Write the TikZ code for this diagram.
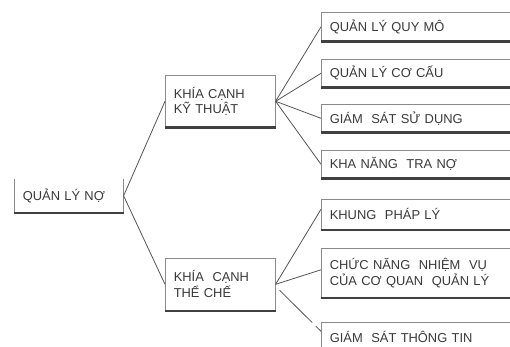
\documentclass[tikz,border=0pt]{standalone}
\usepackage{fontspec}
\setmainfont{Liberation Sans}
\definecolor{ink}{HTML}{3A3A3A}
\definecolor{rule}{HTML}{555555}
\definecolor{edge}{HTML}{8A8A8A}
\begin{document}
\begin{tikzpicture}[x=1pt,y=-1pt,
  box/.style={draw=edge, line width=0.6pt, fill=white, anchor=north west,
    align=left, inner xsep=8.5pt, inner ysep=0pt, text=ink,
    font=\fontsize{12.9}{15.8}\selectfont},
  base/.style={draw=black!75, line width=2.2pt},
  link/.style={draw=rule, line width=0.8pt}]
\useasboundingbox[fill=white] (0,0) rectangle (510,347);

% root
\node[box, draw=none, text width=92pt, minimum height=33pt] (qln) at (14,179) {QUẢN LÝ NỢ};
\draw[edge, line width=0.6pt] (qln.north west) -- (qln.south west) (qln.north east) -- (qln.south east);

% second level
\node[box, text width=93pt, minimum height=52pt] (kt) at (165,75) {KHÍA CẠNH\\KỸ THUẬT};
\node[box, text width=93pt, minimum height=52pt] (tc) at (165,258) {KHÍA\ \ CẠNH\\THỂ CHẾ};

% leaves
\node[box, text width=180pt, minimum height=29pt] (r1) at (321,12) {QUẢN LÝ QUY MÔ};
\node[box, text width=180pt, minimum height=28pt] (r2) at (321,59) {QUẢN LÝ CƠ CẤU};
\node[box, text width=180pt, minimum height=28pt] (r3) at (321,104) {GIÁM\ \ SÁT SỬ DỤNG};
\node[box, text width=180pt, minimum height=28pt] (r4) at (321,150) {KHA NĂNG\ \ TRA NỢ};
\node[box, text width=180pt, minimum height=30pt] (r5) at (321,199) {KHUNG\ \ PHÁP LÝ};
\node[box, text width=180pt, minimum height=49pt] (r6) at (321,248) {CHỨC NĂNG\ \ NHIỆM\ \ VỤ\\CỦA CƠ QUAN\ \ QUẢN LÝ};
\node[box, text width=180pt, minimum height=34pt, anchor=north west] (r7) at (321,322) {\raisebox{5pt}{GIÁM\ \ SÁT THÔNG TIN}};

% heavy lower edges
\foreach \n in {qln,kt,tc,r1,r2,r3,r4,r5,r6}
  \draw[base] (\n.south west) -- (\n.south east);

% connectors
\draw[link] (qln.east) -- (kt.west);
\draw[link] (qln.east) -- (tc.west);
\foreach \n in {r1,r2,r3,r4}
  \draw[link] (kt.east) -- (\n.west);
\draw[link] (tc.east) -- ([yshift=5pt]r5.west);
\draw[link] (tc.east) -- ([yshift=3pt]r6.west);
\draw[link, dash pattern=on 46pt off 5pt on 20pt] ([xshift=4pt,yshift=-6pt]tc.east) -- ([yshift=8pt]r7.west);
\end{tikzpicture}
\end{document}
